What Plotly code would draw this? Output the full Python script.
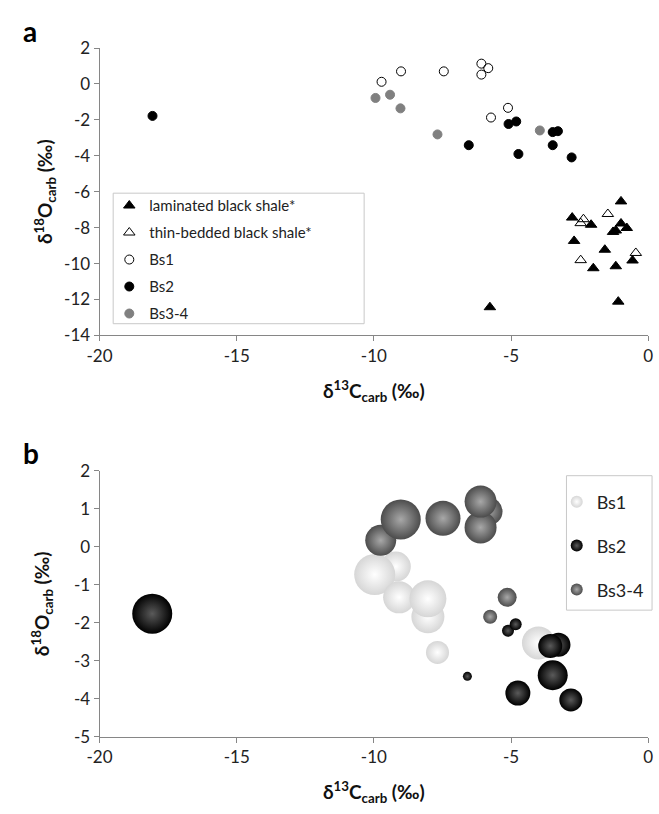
import plotly.graph_objects as go

# ---------------- Panel a data ----------------
lam_x = [-0.99, -2.77, -2.08, -0.99, -0.78, -1.28, -1.18, -2.70, -1.58, -0.57, -1.18, -2.00, -1.09, -5.77]
lam_y = [-6.54, -7.44, -7.84, -7.77, -8.02, -8.24, -8.16, -8.74, -9.23, -9.83, -10.15, -10.26, -12.12, -12.43]
thin_x = [-1.47, -2.36, -2.46, -2.46, -0.45]
thin_y = [-7.24, -7.53, -7.75, -9.81, -9.41]
bs1_x = [-9.72, -9.01, -7.45, -6.08, -5.83, -6.08, -5.73, -5.11]
bs1_y = [0.12, 0.70, 0.70, 1.13, 0.88, 0.52, -1.87, -1.33]
bs2_x = [-18.07, -5.09, -4.81, -6.54, -4.73, -3.48, -3.29, -3.48, -2.79]
bs2_y = [-1.78, -2.23, -2.09, -3.41, -3.90, -2.68, -2.63, -3.41, -4.09]
bs34_x = [-9.94, -9.41, -9.03, -7.68, -3.95]
bs34_y = [-0.78, -0.60, -1.36, -2.81, -2.59]

# ---------------- Panel b data (bubbles) ----------------
b_bs1_x = [-9.20, -9.97, -9.08, -8.03, -8.03, -7.68, -4.00]
b_bs1_y = [-0.52, -0.73, -1.33, -1.84, -1.37, -2.78, -2.53]
b_bs1_s = [30, 41, 32, 33, 37, 23, 33]
b_bs2_x = [-18.08, -6.59, -5.11, -4.83, -3.27, -3.57, -3.48, -4.75, -2.82]
b_bs2_y = [-1.76, -3.41, -2.21, -2.04, -2.58, -2.61, -3.38, -3.85, -4.03]
b_bs2_s = [40, 9, 12, 12, 24, 24, 30, 25, 23]
b_bs34_x = [-9.75, -9.02, -7.48, -5.82, -6.11, -6.11, -5.14, -5.76]
b_bs34_y = [0.17, 0.72, 0.75, 0.93, 0.51, 1.19, -1.33, -1.84]
b_bs34_s = [31, 40, 35, 28, 32, 32, 19, 14]

xticks = [-20, -15, -10, -5, 0]
xtick_text = ["-20", "-15", "-10", "-5", "0"]
ya_ticks = [2, 0, -2, -4, -6, -8, -10, -12, -14]
ya_text = ["2", "0", "-2", "-4", "-6", "-8", "-10", "-12", "-14"]
yb_ticks = [2, 1, 0, -1, -2, -3, -4, -5]
yb_text = ["2", "1", "0", "-1", "-2", "-3", "-4", "-5"]

FONT = "Lato, 'Open Sans', sans-serif"
AXC = "#868686"
W, H = 659, 814

fig = go.Figure()

def pts(x, y, name, symbol, color, line_color, size, lg):
    fig.add_trace(go.Scatter(
        x=x, y=y, mode="markers", name=name, legendgroup=lg,
        marker=dict(symbol=symbol, color=color, size=size,
                    line=dict(color=line_color, width=1)),
        xaxis="x", yaxis="y", legend="legend"))

pts(lam_x, lam_y, "laminated black shale*", "triangle-up", "black", "black", 10, "g1")
pts(thin_x, thin_y, "thin-bedded black shale*", "triangle-up-open", "black", "black", 10, "g2")
pts(bs1_x, bs1_y, "Bs1", "circle-open", "black", "black", 9, "g3")
pts(bs2_x, bs2_y, "Bs2", "circle", "black", "black", 9, "g4")
pts(bs34_x, bs34_y, "Bs3-4", "circle", "#808080", "#808080", 9, "g5")

def bub(x, y, s, name, edge, center, lg):
    fig.add_trace(go.Scatter(
        x=x, y=y, mode="markers", name=name, legendgroup=lg,
        marker=dict(size=s, sizemode="diameter", sizeref=1, color=edge,
                    opacity=1, line=dict(width=0),
                    gradient=dict(type="radial", color=center)),
        xaxis="x2", yaxis="y2", legend="legend2"))

bub(b_bs1_x, b_bs1_y, b_bs1_s, "Bs1", "#d6d6d6", "#ffffff", "h1")
bub(b_bs2_x, b_bs2_y, b_bs2_s, "Bs2", "#000000", "#5a5a5a", "h2")
bub(b_bs34_x, b_bs34_y, b_bs34_s, "Bs3-4", "#4c4c4c", "#a8a8a8", "h3")

def xax(domain, anchor):
    return dict(domain=domain, anchor=anchor, range=[-20, 0], tickvals=xticks,
                ticktext=xtick_text,
                showgrid=False, zeroline=False, showline=True, linecolor=AXC,
                linewidth=1, ticks="outside", ticklen=5, tickcolor=AXC,
                tickfont=dict(family=FONT, size=17, color="#222"),
                title=dict(text="<b>δ<sup>13</sup>C<sub>carb</sub> (‰)</b>",
                           font=dict(family=FONT, size=19, color="#111"), standoff=19))

def yax(domain, anchor, rng, ticks, text, standoff):
    return dict(domain=domain, anchor=anchor, range=rng, tickvals=ticks, ticktext=text,
                showgrid=False, zeroline=False, showline=True, linecolor=AXC,
                linewidth=1, ticks="outside", ticklen=5, tickcolor=AXC,
                tickfont=dict(family=FONT, size=17, color="#222"),
                title=dict(text="<b>δ<sup>18</sup>O<sub>carb</sub> (‰)</b>",
                           font=dict(family=FONT, size=19, color="#111"), standoff=standoff))

xd = [89 / W, 653 / W]
fig.update_layout(
    width=W, height=H, margin=dict(l=0, r=0, t=0, b=0),
    paper_bgcolor="white", plot_bgcolor="white",
    xaxis=xax(xd, "y"),
    yaxis=yax([1 - 333 / H, 1 - 38 / H], "x", [-14, 2], ya_ticks, ya_text, 6),
    xaxis2=xax(xd, "y2"),
    yaxis2=yax([1 - 745 / H, 1 - 472 / H], "x2", [-5, 2], yb_ticks, yb_text, 19),
    legend=dict(x=99 / W, y=1 - 183 / H, xanchor="left", yanchor="top",
                bgcolor="rgba(0,0,0,0)", borderwidth=0,
                font=dict(family=FONT, size=15, color="#222"),
                tracegroupgap=4.5, itemsizing="trace"),
    legend2=dict(x=559 / W, y=1 - 485 / H, xanchor="left", yanchor="top",
                 bgcolor="rgba(0,0,0,0)", borderwidth=0,
                 font=dict(family=FONT, size=18, color="#222"),
                 tracegroupgap=17.5, itemsizing="constant"),
    shapes=[dict(type="rect", xref="paper", yref="paper",
                 x0=103 / W, x1=361 / W, y0=1 - 321 / H, y1=1 - 187 / H,
                 line=dict(color="#c8c8c8", width=1), fillcolor="rgba(0,0,0,0)", layer="below"),
            dict(type="rect", xref="paper", yref="paper",
                 x0=569 / W, x1=657 / W, y0=1 - 615 / H, y1=1 - 477 / H,
                 line=dict(color="#c8c8c8", width=1), fillcolor="white", layer="below")],
    annotations=[
        dict(text="<b>a</b>", x=17 / W, y=1 - 21 / H, xref="paper", yref="paper",
             xanchor="center", yanchor="middle",
             showarrow=False, font=dict(family=FONT, size=28, color="black")),
        dict(text="<b>b</b>", x=18 / W, y=1 - 454 / H, xref="paper", yref="paper",
             xanchor="center", yanchor="middle",
             showarrow=False, font=dict(family=FONT, size=28, color="black")),
    ],
    showlegend=True,
)

fig.write_html("out.html")
